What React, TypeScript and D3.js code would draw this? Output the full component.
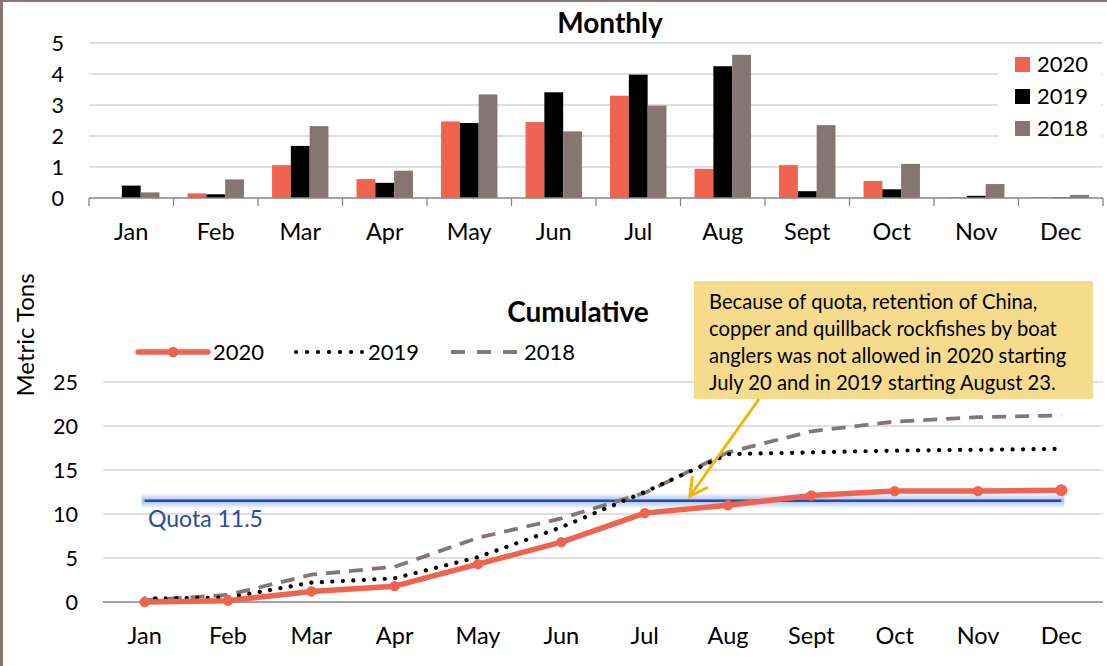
import React from "react";
import * as d3 from "d3";

const months = ["Jan", "Feb", "Mar", "Apr", "May", "Jun", "Jul", "Aug", "Sept", "Oct", "Nov", "Dec"];
const seriesNames = ["2020", "2019", "2018"];
const monthly2020 = [0, 0.15, 1.06, 0.61, 2.47, 2.45, 3.3, 0.94, 1.06, 0.55, 0.02, 0.02];
const monthly2019 = [0.4, 0.12, 1.68, 0.49, 2.42, 3.41, 3.98, 4.25, 0.22, 0.28, 0.07, 0.02];
const monthly2018 = [0.18, 0.6, 2.32, 0.88, 3.34, 2.15, 2.98, 4.62, 2.35, 1.1, 0.45, 0.1];
const cum2020 = [0, 0.15, 1.2, 1.8, 4.3, 6.8, 10.1, 11.0, 12.1, 12.6, 12.6, 12.7];
const cum2019 = [0.4, 0.5, 2.2, 2.7, 5.1, 8.5, 12.5, 16.8, 17.0, 17.2, 17.3, 17.4];
const cum2018 = [0.2, 0.8, 3.1, 4.0, 7.3, 9.5, 12.4, 17.0, 19.4, 20.5, 21.0, 21.2];
const topTicks = [0, 1, 2, 3, 4, 5];
const bottomTicks = [0, 5, 10, 15, 20, 25];
const quota = 11.5;
const noteLines = [
  "Because of quota, retention of China,",
  "copper and quillback rockfishes by boat",
  "anglers was not allowed in 2020 starting",
  "July 20 and in 2019 starting August 23.",
];

const FONT = "Lato, 'Open Sans', sans-serif";
const RED = "#f0634f";
const BLACK = "#000000";
const GRAY = "#857673";
const GRID = "#c0c0c0";
const AXIS = "#868686";

export default function App() {
  const W = 1107, H = 666;
  // top chart
  const xTop = d3.scaleBand<string>().domain(months).range([89, 1103]).padding(0);
  const bw = xTop.bandwidth();
  const xInner = d3.scaleBand<string>().domain(seriesNames).range([bw / 2 - 28.2, bw / 2 + 28.2]).padding(0);
  const yTop = d3.scaleLinear().domain([0, 5]).range([198, 43]);
  const monthlyData = [monthly2020, monthly2019, monthly2018];
  const colors = [RED, BLACK, GRAY];

  // bottom chart
  const xBot = d3.scaleBand<string>().domain(months).range([103, 1103]).padding(0);
  const cx = (m: string) => (xBot(m) as number) + xBot.bandwidth() / 2;
  const yBot = d3.scaleLinear().domain([0, 25]).range([602, 382]);
  const line = d3
    .line<number>()
    .x((_, i) => cx(months[i]))
    .y((d) => yBot(d));

  // arrow geometry
  const ax1 = 759, ay1 = 399, ax2 = 690, ay2 = 496;
  const ang = Math.atan2(ay1 - ay2, ax1 - ax2);
  const headLen = 20, spread = 0.5;
  const h1 = [ax2 + headLen * Math.cos(ang + spread), ay2 + headLen * Math.sin(ang + spread)];
  const h2 = [ax2 + headLen * Math.cos(ang - spread), ay2 + headLen * Math.sin(ang - spread)];

  const qy = yBot(quota);
  const glowH = 8;

  return (
    <svg
      width={W}
      height={H}
      style={{ position: "absolute", left: 0, top: 0, background: "#fff" }}
      fontFamily={FONT}
    >
      <defs>
        <linearGradient id="glowGrad" x1="0" y1="0" x2="0" y2="1">
          <stop offset="0" stopColor="#9dbcf0" stopOpacity={0} />
          <stop offset="0.5" stopColor="#9dbcf0" stopOpacity={0.95} />
          <stop offset="1" stopColor="#9dbcf0" stopOpacity={0} />
        </linearGradient>
      </defs>
      <rect x={0} y={0} width={W} height={H} fill="#fff" />
      <rect x={0} y={0} width={3} height={H} fill={GRAY} />
      <rect x={0} y={0} width={W} height={2} fill={GRAY} />

      {/* ===== Monthly ===== */}
      <text x={610} y={33} textAnchor="middle" fontSize={28} fontWeight="bold">
        Monthly
      </text>
      {topTicks.filter((t) => t > 0).map((t) => (
        <line key={t} x1={89} x2={1103} y1={yTop(t)} y2={yTop(t)} stroke={GRID} strokeWidth={1.2} />
      ))}
      {topTicks.map((t) => (
        <text key={t} x={64} y={yTop(t)} dy="0.36em" textAnchor="end" fontSize={21.5}>
          {t}
        </text>
      ))}
      {months.map((m, i) => (
        <g key={m}>
          {monthlyData.map((arr, s) => (
            <rect
              key={s}
              x={(xTop(m) as number) + (xInner(seriesNames[s]) as number)}
              y={yTop(arr[i])}
              width={xInner.bandwidth()}
              height={yTop(0) - yTop(arr[i])}
              fill={colors[s]}
            />
          ))}
        </g>
      ))}
      <line x1={89} x2={1103} y1={198} y2={198} stroke={AXIS} strokeWidth={1.3} />
      {months.concat(["end"]).map((m, i) => {
        const x = 89 + i * bw;
        return <line key={m} x1={x} x2={x} y1={198} y2={206} stroke={AXIS} strokeWidth={1.3} />;
      })}
      {months.map((m) => (
        <text key={m} x={(xTop(m) as number) + bw / 2} y={232} dy="0.36em" textAnchor="middle" fontSize={23.5}>
          {m}
        </text>
      ))}
      {/* legend */}
      <rect x={998} y={48} width={103} height={97} fill="#fff" />
      {seriesNames.map((s, i) => (
        <g key={s}>
          <rect x={1015} y={57 + i * 32} width={15} height={15} fill={colors[i]} />
          <text x={1037} y={64.5 + i * 32} dy="0.36em" fontSize={22}>
            {s}
          </text>
        </g>
      ))}

      {/* ===== Cumulative ===== */}
      <text x={578} y={322} textAnchor="middle" fontSize={28} fontWeight="bold">
        Cumulative
      </text>
      <text transform="translate(25,335) rotate(-90)" textAnchor="middle" dy="0.36em" fontSize={24}>
        Metric Tons
      </text>
      {bottomTicks.filter((t) => t > 0).map((t) => (
        <line key={t} x1={103} x2={1103} y1={yBot(t)} y2={yBot(t)} stroke={GRID} strokeWidth={1.2} />
      ))}
      <line x1={103} x2={1103} y1={yBot(0)} y2={yBot(0)} stroke={AXIS} strokeWidth={1.3} />
      {bottomTicks.map((t) => (
        <text key={t} x={78} y={yBot(t)} dy="0.36em" textAnchor="end" fontSize={21.5}>
          {t}
        </text>
      ))}
      {months.map((m) => (
        <text key={m} x={cx(m)} y={636} dy="0.36em" textAnchor="middle" fontSize={23.5}>
          {m}
        </text>
      ))}

      {/* quota */}
      <rect
        x={cx("Jan") - 3}
        y={qy - glowH}
        width={cx("Dec") - cx("Jan") + 6}
        height={glowH * 2}
        fill="url(#glowGrad)"
        rx={4}
      />
      <line x1={cx("Jan")} x2={cx("Dec")} y1={qy} y2={qy} stroke="#2c4a9b" strokeWidth={2.5} />
      <text x={148} y={519} dy="0.36em" fontSize={23} fill="#2c4a9b">
        Quota 11.5
      </text>

      {/* lines */}
      <path d={line(cum2018) || ""} fill="none" stroke={GRAY} strokeWidth={3.8} strokeDasharray="14 9" />
      <path
        d={line(cum2019) || ""}
        fill="none"
        stroke={BLACK}
        strokeWidth={4.2}
        strokeDasharray="0.1 10.4"
        strokeLinecap="round"
      />
      <path d={line(cum2020) || ""} fill="none" stroke={RED} strokeWidth={5.5} strokeLinejoin="round" />
      {cum2020.map((v, i) => (
        <circle key={i} cx={cx(months[i])} cy={yBot(v)} r={i === 11 ? 6 : 5.2} fill={RED} />
      ))}

      {/* bottom legend */}
      <line x1={138} x2={208} y1={352} y2={352} stroke={RED} strokeWidth={5.5} strokeLinecap="round" />
      <circle cx={173} cy={352} r={5.2} fill={RED} />
      <text x={213} y={352} dy="0.36em" fontSize={22}>
        2020
      </text>
      <line
        x1={296}
        x2={362}
        y1={352}
        y2={352}
        stroke={BLACK}
        strokeWidth={4.2}
        strokeDasharray="0.1 10.9"
        strokeLinecap="round"
      />
      <text x={368} y={352} dy="0.36em" fontSize={22}>
        2019
      </text>
      <line x1={451} x2={518} y1={352} y2={352} stroke={GRAY} strokeWidth={3.8} strokeDasharray="14 12" />
      <text x={524} y={352} dy="0.36em" fontSize={22}>
        2018
      </text>

      {/* annotation */}
      <rect x={694} y={281} width={399} height={118} fill="#f5db8b" />
      {noteLines.map((t, i) => (
        <text key={i} x={709} y={302 + i * 27} dy="0.36em" fontSize={20.2}>
          {t}
        </text>
      ))}
      <line x1={ax1} y1={ay1} x2={ax2} y2={ay2} stroke="#f5b400" strokeWidth={3} />
      <polyline
        points={`${h1[0]},${h1[1]} ${ax2},${ay2} ${h2[0]},${h2[1]}`}
        fill="none"
        stroke="#f5b400"
        strokeWidth={3}
      />
    </svg>
  );
}
